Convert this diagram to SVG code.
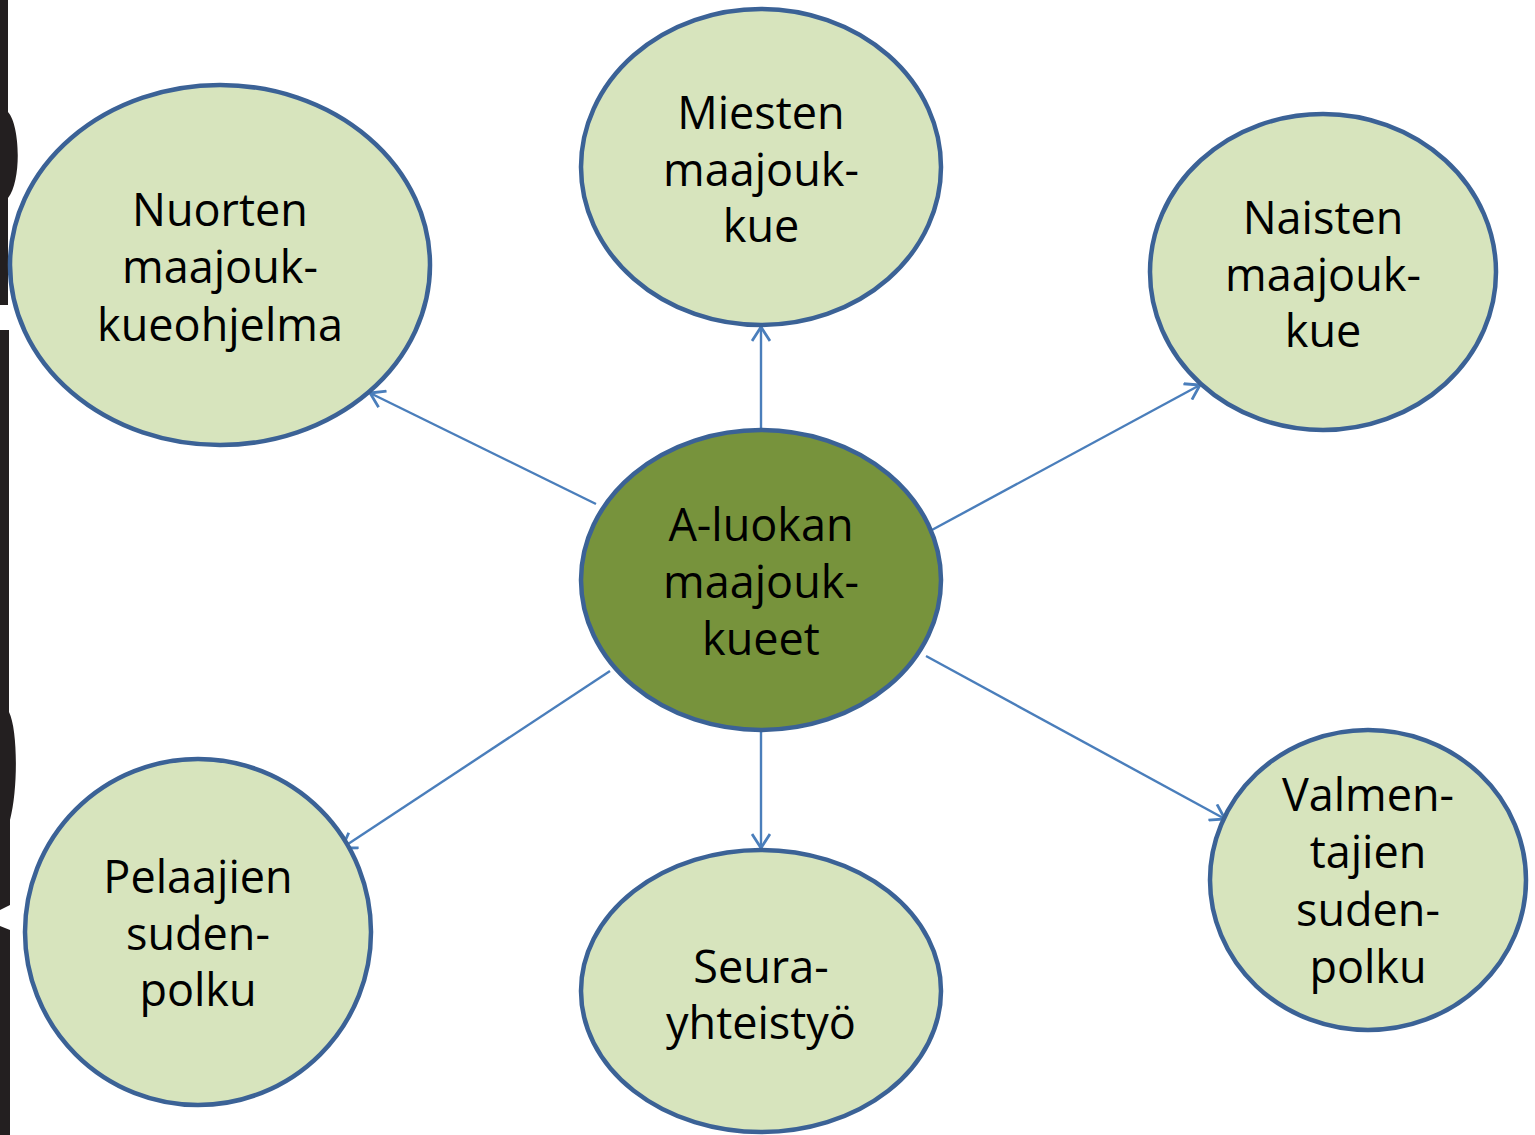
<svg xmlns="http://www.w3.org/2000/svg" width="1535" height="1135" viewBox="0 0 1535 1135">
<defs>
<style>
.node ellipse{fill:#d7e4bd;stroke:#3b6296;stroke-width:4.5}
.node.main ellipse{fill:#77933c}
.node text{font-family:"Open Sans","DejaVu Sans",sans-serif;font-size:45px;fill:#000;text-anchor:middle}
.conn line{stroke:#4a7ebb;stroke-width:2.4;fill:none;marker-end:url(#arr)}
.edge{fill:#231f20}
</style>
<marker id="arr" viewBox="0 0 20 20" refX="18" refY="10" markerWidth="20" markerHeight="20" markerUnits="userSpaceOnUse" orient="auto">
<path d="M4,1 L18,10 L4,19" fill="none" stroke="#4a7ebb" stroke-width="2.8"/>
</marker>
</defs>
<rect width="1535" height="1135" fill="#fff"/>
<g id="left-edge">
<path class="edge" d="M0,0 H8 V112 C20,125 22,180 8,198 V305 H0 Z"/>
<path class="edge" d="M0,330 H9 V712 C18,730 18,790 10,820 V905 L0,910 Z"/>
<path class="edge" d="M0,926 L10,930 V1135 H0 Z"/>
</g>
<g id="connectors" class="conn">
<line x1="596" y1="504" x2="370" y2="393"/>
<line x1="761" y1="430" x2="761" y2="327"/>
<line x1="930" y1="531" x2="1200" y2="385"/>
<line x1="610" y1="671" x2="342" y2="848"/>
<line x1="761" y1="731" x2="761" y2="848"/>
<line x1="926" y1="656" x2="1225" y2="819"/>
</g>
<g id="n-nuorten" class="node">
<ellipse cx="220" cy="265" rx="210" ry="180"/>
<text x="220" y="226">Nuorten</text>
<text x="220" y="283">maajouk-</text>
<text x="220" y="341">kueohjelma</text>
</g>
<g id="n-miesten" class="node">
<ellipse cx="761" cy="167" rx="180" ry="158"/>
<text x="761" y="129">Miesten</text>
<text x="761" y="186">maajouk-</text>
<text x="761" y="242">kue</text>
</g>
<g id="n-naisten" class="node">
<ellipse cx="1323" cy="272" rx="173" ry="158"/>
<text x="1323" y="234">Naisten</text>
<text x="1323" y="291">maajouk-</text>
<text x="1323" y="347">kue</text>
</g>
<g id="n-center" class="node main">
<ellipse cx="761" cy="580" rx="180" ry="150"/>
<text x="761" y="541">A-luokan</text>
<text x="761" y="598">maajouk-</text>
<text x="761" y="655">kueet</text>
</g>
<g id="n-pelaajien" class="node">
<ellipse cx="198" cy="932" rx="173" ry="173"/>
<text x="198" y="893">Pelaajien</text>
<text x="198" y="950">suden-</text>
<text x="198" y="1006">polku</text>
</g>
<g id="n-seura" class="node">
<ellipse cx="761" cy="991" rx="180" ry="141"/>
<text x="761" y="983">Seura-</text>
<text x="761" y="1039">yhteistyö</text>
</g>
<g id="n-valmentajien" class="node">
<ellipse cx="1368" cy="880" rx="158" ry="150"/>
<text x="1368" y="811">Valmen-</text>
<text x="1368" y="868">tajien</text>
<text x="1368" y="926">suden-</text>
<text x="1368" y="983">polku</text>
</g>
</svg>
